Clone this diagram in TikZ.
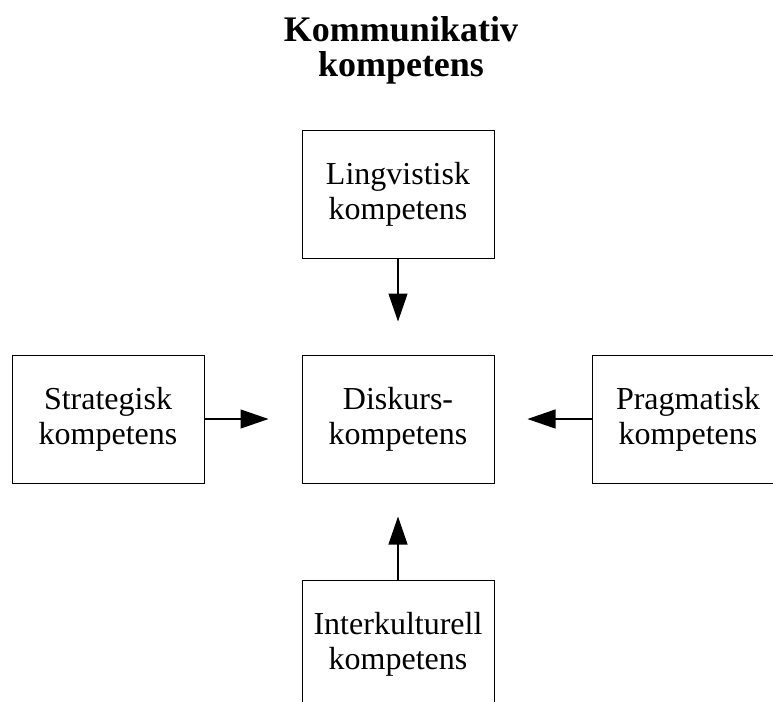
\documentclass[tikz,border=0pt]{standalone}
\usepackage{fontspec}
\setmainfont{Liberation Serif}
\usetikzlibrary{positioning,arrows.meta}

\begin{document}
\begin{tikzpicture}[x=1pt,y=1pt,node distance=96pt and 97pt]
  \tikzset{
    box/.style={draw,line width=1pt,minimum width=192pt,minimum height=128pt,
      align=center,inner sep=0pt,font=\fontsize{32}{35}\selectfont},
    flow/.style={-{Triangle[length=28pt,width=19pt]},line width=1.2pt,shorten >=33pt},
    title/.style={align=center,font=\fontsize{36}{35}\selectfont\bfseries}
  }
  \useasboundingbox (0,0) rectangle (773,-701);
  \node[title] (head) at (401,-50) {Kommunikativ\\kompetens};
  \node[box] (disk) at (398,-419) {Diskurs-\\kompetens};
  \node[box,above=of disk] (ling) {Lingvistisk\\kompetens};
  \node[box,below=of disk] (inter) {Interkulturell\\kompetens};
  \node[box,left=of disk] (strat) {Strategisk\\kompetens};
  \node[box,right=of disk] (prag) {Pragmatisk\\kompetens};
  \draw[flow] (ling) -- (disk);
  \draw[flow] (strat) -- (disk);
  \draw[flow] (prag) -- (disk);
  \draw[flow] (inter) -- (disk);
\end{tikzpicture}
\end{document}
